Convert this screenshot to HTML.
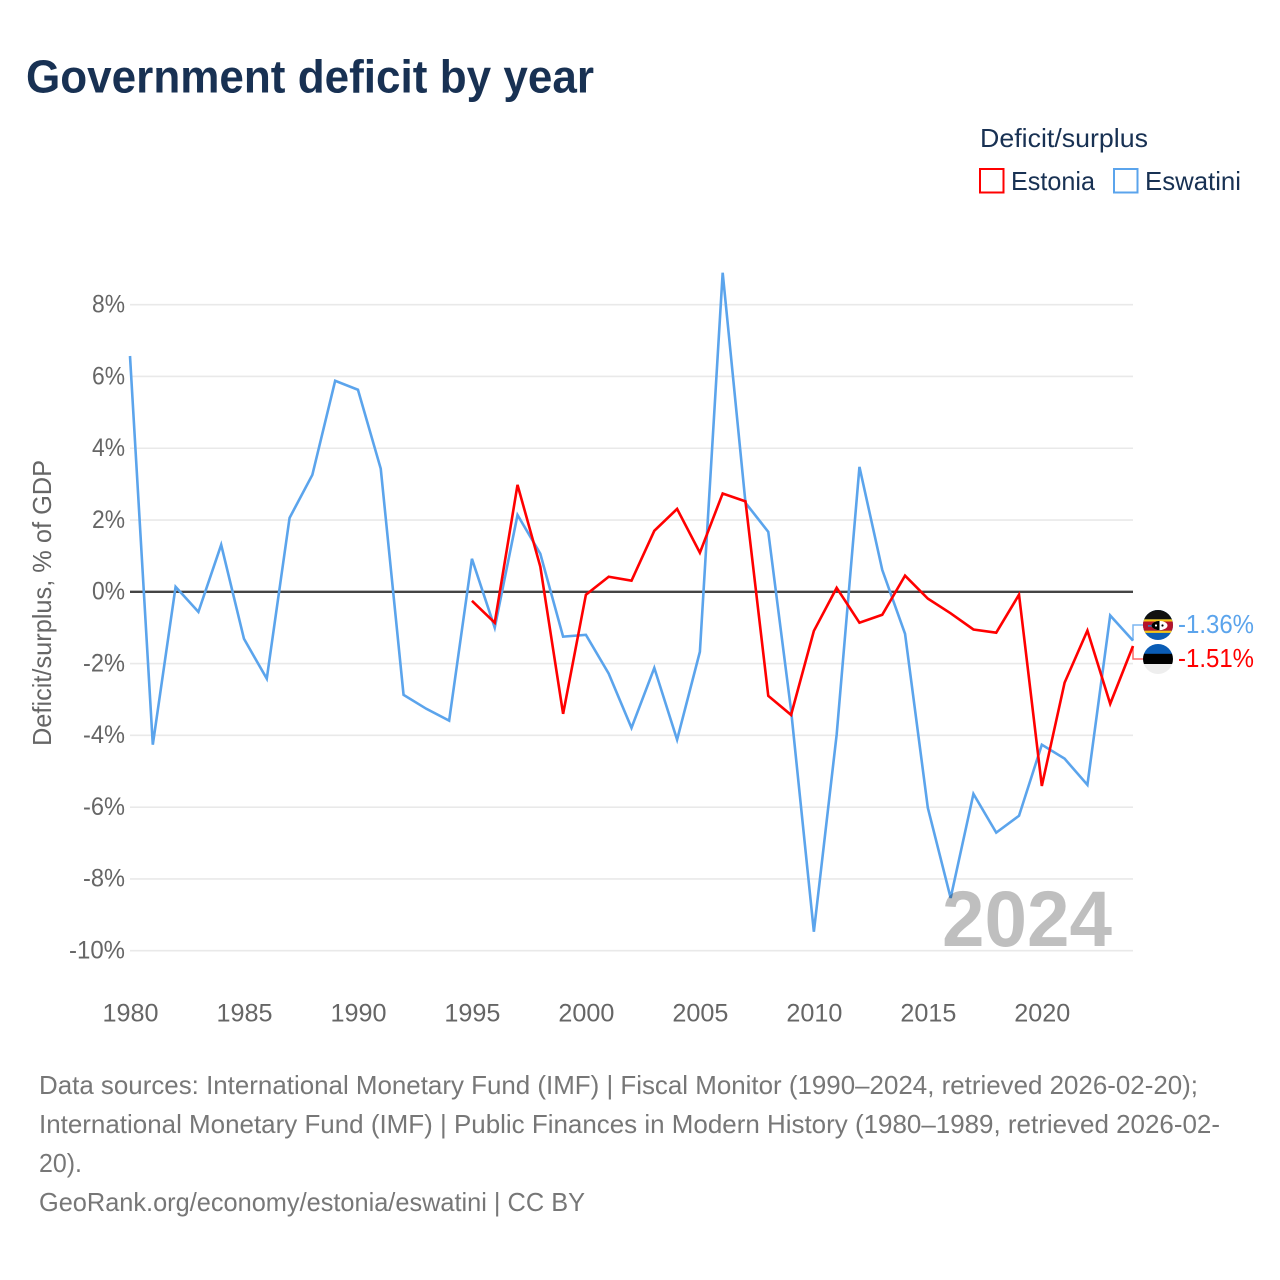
<!DOCTYPE html>
<html lang="en">
<head>
<meta charset="utf-8">
<title>Government deficit by year</title>
<style>
html,body{margin:0;padding:0;background:#fff;}
svg{display:block;font-family:"Liberation Sans",sans-serif;}
</style>
</head>
<body>
<svg id="chart" xmlns="http://www.w3.org/2000/svg" width="1280" height="1280" viewBox="0 0 1280 1280">
  <defs>
    <clipPath id="flag-clip"><circle cx="0" cy="0" r="15"></circle></clipPath>
  </defs>
  <rect x="0" y="0" width="1280" height="1280" fill="#ffffff"></rect>
  <text x="26" y="92.5" font-size="46" font-weight="700" fill="#183153" textLength="568" lengthAdjust="spacingAndGlyphs">Government deficit by year</text>

  <g>
    <text x="980" y="147" font-size="26" fill="#183153" textLength="168" lengthAdjust="spacingAndGlyphs">Deficit/surplus</text>
    <g>
      <rect x="980" y="169" width="23.5" height="23.5" fill="#ffffff" stroke="#ff0000" stroke-width="2"></rect>
      <text x="1011" y="190" font-size="26" fill="#183153" textLength="84" lengthAdjust="spacingAndGlyphs">Estonia</text>
    </g>
    <g>
      <rect x="1114" y="169" width="23.5" height="23.5" fill="#ffffff" stroke="#5ba4ec" stroke-width="2"></rect>
      <text x="1145" y="190" font-size="26" fill="#183153" textLength="96" lengthAdjust="spacingAndGlyphs">Eswatini</text>
    </g>
  </g>

  <text transform="translate(51,746) rotate(-90)" x="0" y="0" font-size="26" fill="#666666" textLength="286" lengthAdjust="spacingAndGlyphs">Deficit/surplus, % of GDP</text>

  <g id="grid"></g>
  <g id="y-ticks"></g>
  <g id="x-ticks"></g>
  <line id="zero-line" stroke="#444444" stroke-width="2.4"></line>

  <polyline id="line-eswatini" fill="none" stroke="#5ba4ec" stroke-width="2.6" stroke-linejoin="miter"></polyline>
  <polyline id="line-estonia" fill="none" stroke="#ff0000" stroke-width="2.6" stroke-linejoin="miter"></polyline>

  <text id="year-label" x="1112" y="946" text-anchor="end" font-size="79" font-weight="700" fill="#000000" fill-opacity="0.25" textLength="170" lengthAdjust="spacingAndGlyphs">2024</text>

  <polyline id="connector-eswatini" fill="none" stroke="#5ba4ec" stroke-width="1.5" opacity="0.8"></polyline>
  <polyline id="connector-estonia" fill="none" stroke="#ff0000" stroke-width="1.5" opacity="0.6"></polyline>

  <g id="flag-eswatini">
    <g clip-path="url(#flag-clip)">
      <rect x="-16" y="-16" width="32" height="32" fill="#0a5cb5"></rect>
      <rect x="-16" y="-16" width="32" height="10.3" fill="#111111"></rect>
      <rect x="-16" y="-5.7" width="32" height="2.2" fill="#f5c518"></rect>
      <rect x="-16" y="-3.5" width="32" height="9.2" fill="#b4142c"></rect>
      <rect x="-16" y="5.7" width="32" height="2.2" fill="#f5c518"></rect>
      <rect x="-10" y="0" width="5" height="1.8" fill="#3f6fb0"></rect>
      <ellipse cx="1.5" cy="0.5" rx="8" ry="4.6" fill="#ffffff"></ellipse>
      <path d="M1.5,-4.1 A8,4.6 0 0 0 1.5,5.1 Z" fill="#000000"></path>
      <circle cx="-2" cy="0.5" r="1.1" fill="#ffffff"></circle>
      <circle cx="4.5" cy="0.5" r="1.1" fill="#000000"></circle>
    </g>
  </g>
  <g id="flag-estonia">
    <g clip-path="url(#flag-clip)">
      <rect x="-16" y="-16" width="32" height="11" fill="#0a5cb5"></rect>
      <rect x="-16" y="-5.2" width="32" height="10.2" fill="#000000"></rect>
      <rect x="-16" y="5" width="32" height="11" fill="#eeeeee"></rect>
    </g>
  </g>

  <text id="value-eswatini" x="1178" font-size="26" fill="#5ba4ec" textLength="76" lengthAdjust="spacingAndGlyphs"></text>
  <text id="value-estonia" x="1178" font-size="26" fill="#ff0000" textLength="76" lengthAdjust="spacingAndGlyphs"></text>

  <g font-size="26" fill="#777777">
    <text x="39" y="1094" textLength="1159" lengthAdjust="spacingAndGlyphs">Data sources: International Monetary Fund (IMF) | Fiscal Monitor (1990–2024, retrieved 2026-02-20);</text>
    <text x="39" y="1133" textLength="1181" lengthAdjust="spacingAndGlyphs">International Monetary Fund (IMF) | Public Finances in Modern History (1980–1989, retrieved 2026-02-</text>
    <text x="39" y="1172" textLength="43" lengthAdjust="spacingAndGlyphs">20).</text>
    <text x="39" y="1211" textLength="546" lengthAdjust="spacingAndGlyphs">GeoRank.org/economy/estonia/eswatini | CC BY</text>
  </g>
</svg>
<script>
const eswatiniStartYear = 1980;
const eswatiniValues = [6.57,-4.26,0.14,-0.56,1.31,-1.31,-2.42,2.06,3.26,5.88,5.63,3.43,-2.87,-3.26,-3.59,0.92,-1.0,2.14,1.06,-1.25,-1.2,-2.28,-3.79,-2.12,-4.12,-1.67,8.89,2.48,1.67,-3.3,-9.47,-3.98,3.48,0.61,-1.17,-6.02,-8.53,-5.63,-6.71,-6.24,-4.26,-4.65,-5.38,-0.66,-1.36];
const estoniaStartYear = 1995;
const estoniaValues = [-0.25,-0.86,2.98,0.7,-3.4,-0.08,0.42,0.31,1.7,2.31,1.09,2.74,2.52,-2.9,-3.43,-1.09,0.11,-0.86,-0.64,0.45,-0.19,-0.6,-1.05,-1.14,-0.08,-5.41,-2.53,-1.08,-3.12,-1.51];
const yTickValues = [8,6,4,2,0,-2,-4,-6,-8,-10];
const xTickYears = [1980,1985,1990,1995,2000,2005,2010,2015,2020];

const NS = 'http://www.w3.org/2000/svg';
const xLeft = 130, xRight = 1133, yearMin = 1980, yearMax = 2024;
const yZero = 591.8, pxPerUnit = 35.89;
function xScale(year){ return xLeft + (year - yearMin) * (xRight - xLeft) / (yearMax - yearMin); }
function yScale(v){ return yZero - v * pxPerUnit; }
function make(tag, attrs, parent){
  const el = document.createElementNS(NS, tag);
  for (const k in attrs) el.setAttribute(k, attrs[k]);
  parent.appendChild(el);
  return el;
}
const gridG = document.getElementById('grid');
const yG = document.getElementById('y-ticks');
const xG = document.getElementById('x-ticks');
yTickValues.forEach(function(v){
  if (v !== 0) {
    const ln = make('line', {x1:xLeft, x2:xRight, y1:yScale(v), y2:yScale(v), stroke:'#e9e9e9', 'stroke-width':1.6}, gridG);
    
    
  }
  const t = make('text', {x:125, y:yScale(v)+7.8, 'text-anchor':'end', 'font-size':25, fill:'#666666', textLength:(v<0?9:0)+(Math.abs(v)>=10?14:0)+33, lengthAdjust:'spacingAndGlyphs'}, yG);
  
  
  t.textContent = v + '%';
});
xTickYears.forEach(function(y){
  const t = make('text', {x:xScale(y)+0.5, y:1021.5, 'text-anchor':'middle', 'font-size':25, fill:'#666666', textLength:56, lengthAdjust:'spacingAndGlyphs'}, xG);
  
  
  t.textContent = y;
});
const zero = document.getElementById('zero-line');
zero.setAttribute('x1', xLeft);
zero.setAttribute('x2', xRight);
zero.setAttribute('y1', yScale(0));
zero.setAttribute('y2', yScale(0));

function points(start, vals){
  return vals.map(function(v, i){ return xScale(start + i).toFixed(2) + ',' + yScale(v).toFixed(2); }).join(' ');
}
document.getElementById('line-eswatini').setAttribute('points', points(eswatiniStartYear, eswatiniValues));
document.getElementById('line-estonia').setAttribute('points', points(estoniaStartYear, estoniaValues));

const lastEsw = eswatiniValues[eswatiniValues.length - 1];
const lastEst = estoniaValues[estoniaValues.length - 1];
const yEsw = yScale(lastEsw), yEst = yScale(lastEst);
const mid = (yEsw + yEst) / 2 - 1.3;
const labelEsw = yEsw <= yEst ? mid - 17 : mid + 17;
const labelEst = yEsw <= yEst ? mid + 17 : mid - 17;
function placeEnd(name, dataY, labelY, val){
  document.getElementById('connector-' + name).setAttribute('points',
    xRight + ',' + dataY + ' ' + xRight + ',' + labelY + ' ' + (xRight + 10) + ',' + labelY);
  document.getElementById('flag-' + name).setAttribute('transform', 'translate(1158,' + labelY + ')');
  const t = document.getElementById('value-' + name);
  t.setAttribute('y', labelY + 7.8);
  t.textContent = val.toFixed(2) + '%';
}
placeEnd('eswatini', yEsw, labelEsw, lastEsw);
placeEnd('estonia', yEst, labelEst, lastEst);
</script>
</body>
</html>
